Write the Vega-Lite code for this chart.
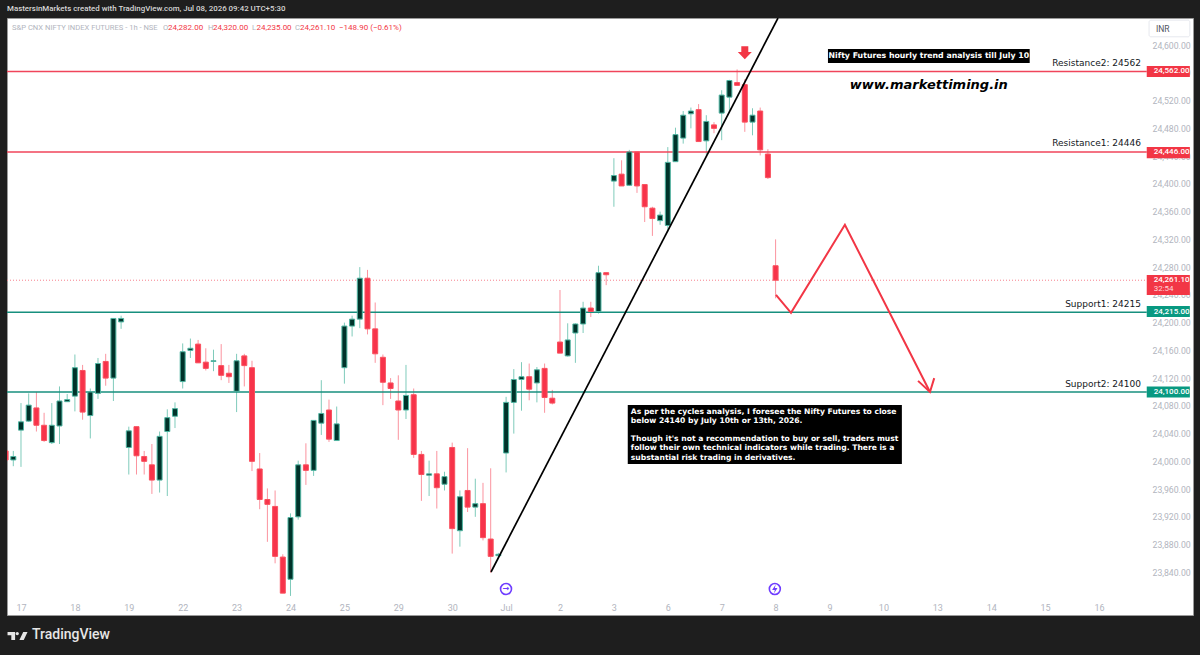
{"$schema":"https://vega.github.io/schema/vega-lite/v6.json","width":1186,"height":597,"autosize":"none","padding":{"left":7,"top":18,"right":7,"bottom":40},"background":"#1e1e1e","view":{"fill":"#ffffff","stroke":"#9a9a9a"},
"datasets":{"candles":[
{"n":-2,"open":24015,"high":24018,"low":23999,"close":24002,"dir":"down"},{"n":-1,"open":24002,"high":24015,"low":23993,"close":24007,"dir":"up"},{"n":0,"open":24045,"high":24084,"low":23992,"close":24057,"dir":"up"},{"n":1,"open":24058,"high":24098,"low":24057,"close":24081,"dir":"up"},{"n":2,"open":24077,"high":24100,"low":24043,"close":24052,"dir":"down"},{"n":3,"open":24052,"high":24070,"low":24028,"close":24030,"dir":"down"},{"n":4,"open":24027,"high":24084,"low":24025,"close":24052,"dir":"up"},{"n":5,"open":24051,"high":24108,"low":24025,"close":24087,"dir":"up"},{"n":6,"open":24086,"high":24097,"low":24086,"close":24089,"dir":"up"},{"n":7,"open":24094,"high":24154,"low":24072,"close":24135,"dir":"up"},{"n":8,"open":24131,"high":24139,"low":24060,"close":24071,"dir":"down"},{"n":9,"open":24066,"high":24105,"low":24033,"close":24100,"dir":"up"},{"n":10,"open":24098,"high":24149,"low":24090,"close":24141,"dir":"up"},{"n":11,"open":24144,"high":24155,"low":24109,"close":24120,"dir":"down"},{"n":12,"open":24120,"high":24206,"low":24087,"close":24206,"dir":"up"},{"n":13,"open":24201,"high":24210,"low":24191,"close":24206,"dir":"up"},{"n":14,"open":24020,"high":24050,"low":23981,"close":24044,"dir":"up"},{"n":15,"open":24050,"high":24050,"low":23981,"close":24008,"dir":"down"},{"n":16,"open":24007,"high":24015,"low":23981,"close":24000,"dir":"down"},{"n":17,"open":23995,"high":24025,"low":23953,"close":23973,"dir":"down"},{"n":18,"open":23973,"high":24043,"low":23955,"close":24036,"dir":"up"},{"n":19,"open":24043,"high":24075,"low":23950,"close":24063,"dir":"up"},{"n":20,"open":24065,"high":24085,"low":24048,"close":24076,"dir":"up"},{"n":21,"open":24115,"high":24170,"low":24105,"close":24158,"dir":"up"},{"n":22,"open":24160,"high":24177,"low":24149,"close":24163,"dir":"up"},{"n":23,"open":24169,"high":24175,"low":24142,"close":24142,"dir":"down"},{"n":24,"open":24143,"high":24163,"low":24131,"close":24134,"dir":"down"},{"n":25,"open":24144,"high":24161,"low":24130,"close":24145,"dir":"up"},{"n":26,"open":24138,"high":24169,"low":24117,"close":24124,"dir":"down"},{"n":27,"open":24127,"high":24139,"low":24113,"close":24122,"dir":"down"},{"n":28,"open":24101,"high":24155,"low":24071,"close":24145,"dir":"up"},{"n":29,"open":24152,"high":24155,"low":24108,"close":24138,"dir":"down"},{"n":30,"open":24135,"high":24145,"low":23986,"close":24000,"dir":"down"},{"n":31,"open":23989,"high":24012,"low":23931,"close":23945,"dir":"down"},{"n":32,"open":23945,"high":23961,"low":23884,"close":23938,"dir":"down"},{"n":33,"open":23935,"high":23958,"low":23853,"close":23863,"dir":"down"},{"n":34,"open":23862,"high":23866,"low":23810,"close":23810,"dir":"down"},{"n":35,"open":23830,"high":23925,"low":23806,"close":23919,"dir":"up"},{"n":36,"open":23920,"high":24001,"low":23916,"close":23995,"dir":"up"},{"n":37,"open":23995,"high":24026,"low":23966,"close":23987,"dir":"down"},{"n":38,"open":23987,"high":24059,"low":23979,"close":24059,"dir":"up"},{"n":39,"open":24055,"high":24117,"low":24038,"close":24069,"dir":"up"},{"n":40,"open":24074,"high":24089,"low":24028,"close":24032,"dir":"down"},{"n":41,"open":24030,"high":24079,"low":24030,"close":24054,"dir":"up"},{"n":42,"open":24135,"high":24200,"low":24112,"close":24195,"dir":"up"},{"n":43,"open":24195,"high":24210,"low":24180,"close":24205,"dir":"up"},{"n":44,"open":24205,"high":24280,"low":24192,"close":24264,"dir":"up"},{"n":45,"open":24264,"high":24276,"low":24183,"close":24191,"dir":"down"},{"n":46,"open":24191,"high":24229,"low":24142,"close":24155,"dir":"down"},{"n":47,"open":24150,"high":24154,"low":24081,"close":24114,"dir":"down"},{"n":48,"open":24113,"high":24120,"low":24090,"close":24105,"dir":"down"},{"n":49,"open":24087,"high":24124,"low":24031,"close":24074,"dir":"down"},{"n":50,"open":24074,"high":24139,"low":24061,"close":24095,"dir":"up"},{"n":51,"open":24096,"high":24105,"low":24005,"close":24010,"dir":"down"},{"n":52,"open":24010,"high":24015,"low":23943,"close":23981,"dir":"down"},{"n":53,"open":23980,"high":24001,"low":23950,"close":23982,"dir":"up"},{"n":54,"open":23982,"high":24015,"low":23932,"close":23962,"dir":"down"},{"n":55,"open":23967,"high":23985,"low":23958,"close":23978,"dir":"up"},{"n":56,"open":24020,"high":24027,"low":23867,"close":23903,"dir":"down"},{"n":57,"open":23900,"high":23958,"low":23877,"close":23949,"dir":"up"},{"n":58,"open":23958,"high":24019,"low":23927,"close":23934,"dir":"down"},{"n":59,"open":23934,"high":23975,"low":23920,"close":23939,"dir":"up"},{"n":60,"open":23939,"high":23969,"low":23886,"close":23890,"dir":"down"},{"n":61,"open":23888,"high":23990,"low":23839,"close":23863,"dir":"down"},{"n":62,"open":23864,"high":23868,"low":23861,"close":23866,"dir":"up"},{"n":63,"open":24012,"high":24093,"low":23984,"close":24085,"dir":"up"},{"n":64,"open":24085,"high":24133,"low":24040,"close":24118,"dir":"up"},{"n":65,"open":24118,"high":24143,"low":24073,"close":24122,"dir":"up"},{"n":66,"open":24122,"high":24141,"low":24088,"close":24104,"dir":"down"},{"n":67,"open":24113,"high":24136,"low":24085,"close":24132,"dir":"up"},{"n":68,"open":24134,"high":24141,"low":24070,"close":24092,"dir":"down"},{"n":69,"open":24091,"high":24103,"low":24082,"close":24084,"dir":"down"},{"n":70,"open":24172,"high":24247,"low":24156,"close":24156,"dir":"down"},{"n":71,"open":24152,"high":24199,"low":24151,"close":24175,"dir":"up"},{"n":72,"open":24185,"high":24199,"low":24142,"close":24198,"dir":"up"},{"n":73,"open":24198,"high":24230,"low":24185,"close":24221,"dir":"up"},{"n":74,"open":24221,"high":24230,"low":24208,"close":24216,"dir":"down"},{"n":75,"open":24216,"high":24282,"low":24213,"close":24272,"dir":"up"},{"n":76,"open":24272,"high":24272,"low":24254,"close":24269,"dir":"down"},{"n":77,"open":24404,"high":24437,"low":24367,"close":24412,"dir":"up"},{"n":78,"open":24414,"high":24434,"low":24397,"close":24397,"dir":"down"},{"n":79,"open":24398,"high":24449,"low":24397,"close":24446,"dir":"up"},{"n":80,"open":24446,"high":24446,"low":24387,"close":24397,"dir":"down"},{"n":81,"open":24399,"high":24399,"low":24345,"close":24367,"dir":"down"},{"n":82,"open":24365,"high":24367,"low":24325,"close":24350,"dir":"down"},{"n":83,"open":24347,"high":24360,"low":24341,"close":24355,"dir":"up"},{"n":84,"open":24340,"high":24453,"low":24331,"close":24431,"dir":"up"},{"n":85,"open":24432,"high":24481,"low":24432,"close":24471,"dir":"up"},{"n":86,"open":24466,"high":24505,"low":24458,"close":24499,"dir":"up"},{"n":87,"open":24501,"high":24510,"low":24480,"close":24505,"dir":"up"},{"n":88,"open":24507,"high":24515,"low":24461,"close":24461,"dir":"down"},{"n":89,"open":24462,"high":24499,"low":24442,"close":24490,"dir":"up"},{"n":90,"open":24485,"high":24489,"low":24473,"close":24480,"dir":"down"},{"n":91,"open":24502,"high":24535,"low":24463,"close":24528,"dir":"up"},{"n":92,"open":24525,"high":24550,"low":24503,"close":24549,"dir":"up"},{"n":93,"open":24546,"high":24565,"low":24542,"close":24542,"dir":"down"},{"n":94,"open":24543,"high":24551,"low":24475,"close":24489,"dir":"down"},{"n":95,"open":24489,"high":24509,"low":24470,"close":24499,"dir":"up"},{"n":96,"open":24505,"high":24510,"low":24441,"close":24449,"dir":"down"},{"n":97,"open":24443,"high":24450,"low":24407,"close":24409,"dir":"down"},{"n":98,"open":24282,"high":24320,"low":24235,"close":24261.1,"dir":"down"}
]},
"encoding":{"x":{"field":"n","type":"quantitative","title":null,"scale":{"domain":[-1.818,152.208],"nice":false,"zero":false,"padding":0},"axis":{"orient":"bottom","offset":-15,"values":[0,7,14,21,28,35,42,49,56,63,70,77,84,91,98,105,112,119,126,133,140],"labelExpr":"['17','18','19','22','23','24','25','29','30','Jul','2','3','6','7','8','9','10','13','14','15','16'][round(datum.value/7)]","grid":false,"domain":false,"ticks":false,"labelPadding":3,"labelFont":"Roboto","labelFontSize":9,"labelColor":"#b2b5be","labelFlush":false,"labelOverlap":false,"title":null}},
"y":{"field":"price","type":"quantitative","title":null,"scale":{"domain":[23778.5,24639.1],"nice":false,"zero":false,"padding":0},"axis":{"orient":"right","offset":-41,"values":[24600,24560,24520,24480,24440,24400,24360,24320,24280,24240,24200,24160,24120,24080,24040,24000,23960,23920,23880,23840],"format":",.2f","grid":false,"domain":false,"ticks":false,"labelPadding":0,"labelFont":"Roboto","labelFontSize":8.7,"labelColor":"#b2b5be","labelOverlap":false,"labelFlush":false,"title":null}}},
"layer":[
{"data":{"name":"candles"},"mark":{"type":"rule","strokeWidth":1,"clip":true},"encoding":{"y":{"field":"low","type":"quantitative","title":null},"y2":{"field":"high"},"color":{"field":"dir","type":"nominal","legend":null,"scale":{"domain":["up","down"],"range":["#7fcbbb","#fb939e"]}}}},
{"data":{"values":[{"n":-1.818,"n2":146.2,"price":24562},{"n":-1.818,"n2":146.2,"price":24446}]},"mark":{"type":"rule","strokeWidth":1.4,"color":"#f0445a"},"encoding":{"x2":{"field":"n2"}}},
{"data":{"values":[{"n":-1.818,"n2":146.2,"price":24215},{"n":-1.818,"n2":146.2,"price":24100}]},"mark":{"type":"rule","strokeWidth":1.4,"color":"#178f7e"},"encoding":{"x2":{"field":"n2"}}},
{"data":{"values":[{"n":-1.818,"n2":146.2,"price":24261.1}]},"mark":{"type":"rule","strokeWidth":1,"strokeDash":[1,2],"color":"#f7808c"},"encoding":{"x2":{"field":"n2"}}},
{"data":{"name":"candles"},"mark":{"type":"bar","size":5,"strokeWidth":1,"orient":"vertical","clip":true},"encoding":{"y":{"field":"open","type":"quantitative","title":null},"y2":{"field":"close"},"fill":{"field":"dir","type":"nominal","legend":null,"scale":{"domain":["up","down"],"range":["#00332a","#f7334a"]}},"stroke":{"field":"dir","type":"nominal","legend":null,"scale":{"domain":["up","down"],"range":["#4fb5a2","#f9525f"]}}}},
{"data":{"values":[{"n":61.04,"price":23840.5,"i":1},{"n":98.31,"price":24639,"i":2}]},"mark":{"type":"line","color":"#000000","strokeWidth":1.7,"clip":true},"encoding":{"order":{"field":"i"}}},
{"data":{"values":[{"n":98.05,"price":24240,"i":1},{"n":100,"price":24214,"i":2},{"n":107,"price":24341,"i":3},{"n":118.05,"price":24100,"i":4}]},"mark":{"type":"line","color":"#f23645","strokeWidth":2},"encoding":{"order":{"field":"i"}}},
{"data":{"values":[{"n":116.5,"price":24116,"i":1},{"n":118.05,"price":24100,"i":2},{"n":118.6,"price":24120,"i":3}]},"mark":{"type":"line","color":"#f23645","strokeWidth":2},"encoding":{"order":{"field":"i"}}},
{"data":{"values":[{"n":94,"price":24589}]},"mark":{"type":"point","filled":true,"opacity":1,"color":"#f23645","size":784,"shape":"M-0.25,-0.46 L0.25,-0.46 L0.25,-0.05 L0.5,-0.05 L0,0.46 L-0.5,-0.05 L-0.25,-0.05 Z"}},
{"data":{"values":[{"n":104.8,"n2":131,"price":24594.4,"price2":24574.3},{"n":78.8,"n2":114.4,"price":24081.3,"price2":23996.2}]},"mark":{"type":"rect","color":"#000000"},"encoding":{"x2":{"field":"n2"},"y2":{"field":"price2"}}},
{"data":{"values":[{"n":146.2,"n2":151.8,"price":24570,"price2":24554},{"n":146.2,"n2":151.8,"price":24453,"price2":24437},{"n":146.2,"n2":151.8,"price":24268.7,"price2":24239.8}]},"mark":{"type":"rect","color":"#f23645"},"encoding":{"x2":{"field":"n2"},"y2":{"field":"price2"}}},
{"data":{"values":[{"n":146.2,"n2":151.8,"price":24224,"price2":24208},{"n":146.2,"n2":151.8,"price":24108,"price2":24092}]},"mark":{"type":"rect","color":"#089981"},"encoding":{"x2":{"field":"n2"},"y2":{"field":"price2"}}},
{"data":{"values":[{"n":146.5,"n2":151.8,"price":24636,"price2":24612}]},"mark":{"type":"rect","fill":"#ffffff","stroke":"#e6e8ee","strokeWidth":1,"cornerRadius":2},"encoding":{"x2":{"field":"n2"},"y2":{"field":"price2"}}},
{"data":{"values":[{"n":147.4,"price":24623,"label":"INR"}]},"mark":{"type":"text","align":"left","baseline":"middle","font":"Roboto","fontSize":8.5,"color":"#50535e"},"encoding":{"text":{"field":"label"}}},
{"data":{"values":[{"n":147.1,"price":24562,"label":"24,562.00"},{"n":147.1,"price":24446,"label":"24,446.00"},{"n":147.1,"price":24261.1,"label":"24,261.10"},{"n":147.1,"price":24215,"label":"24,215.00"},{"n":147.1,"price":24100,"label":"24,100.00"}]},"mark":{"type":"text","align":"left","baseline":"middle","font":"Roboto","fontSize":8,"fontWeight":500,"color":"#ffffff"},"encoding":{"text":{"field":"label"}}},
{"data":{"values":[{"n":147.1,"price":24249,"label":"32:54"}]},"mark":{"type":"text","align":"left","baseline":"middle","font":"Roboto","fontSize":8,"color":"#ffd5d9"},"encoding":{"text":{"field":"label"}}},
{"data":{"values":[{"n":145.45,"price":24574.7,"label":"Resistance2: 24562"},{"n":145.45,"price":24459,"label":"Resistance1: 24446"},{"n":145.45,"price":24226.9,"label":"Support1: 24215"},{"n":145.45,"price":24111.5,"label":"Support2: 24100"}]},"mark":{"type":"text","align":"right","baseline":"middle","font":"DejaVu Sans","fontSize":9,"color":"#131722"},"encoding":{"text":{"field":"label"}}},
{"data":{"values":[{"n":117.9,"price":24584.4,"label":"Nifty Futures hourly trend analysis till July 10"}]},"mark":{"type":"text","align":"center","baseline":"middle","font":"DejaVu Sans","fontSize":7.8,"fontWeight":"bold","color":"#ffffff"},"encoding":{"text":{"field":"label"}}},
{"data":{"values":[{"n":117.9,"price":24542.5,"label":"www.markettiming.in"}]},"mark":{"type":"text","align":"center","baseline":"middle","font":"DejaVu Sans","fontSize":13,"fontWeight":"bold","fontStyle":"italic","color":"#000000"},"encoding":{"text":{"field":"label"}}},
{"data":{"values":[{"n":79.2,"price":24071.6,"label":"As per the cycles analysis, I foresee the Nifty Futures to close"},{"n":79.2,"price":24058.2,"label":"below 24140 by July 10th or 13th, 2026."},{"n":79.2,"price":24032.2,"label":"Though it's not a recommendation to buy or sell, traders must"},{"n":79.2,"price":24018.8,"label":"follow their own technical indicators while trading. There is a"},{"n":79.2,"price":24005.3,"label":"substantial risk trading in derivatives."}]},"mark":{"type":"text","align":"left","baseline":"middle","font":"DejaVu Sans","fontSize":7.6,"fontWeight":"bold","color":"#ffffff"},"encoding":{"text":{"field":"label"}}},
{"data":{"values":[{"n":62.99,"price":23816},{"n":97.9,"price":23816}]},"mark":{"type":"point","shape":"circle","size":120,"strokeWidth":1.6,"color":"#6f3dff","opacity":1}},
{"data":{"values":[{"n":62.99,"price":23816,"label":"→"}]},"mark":{"type":"text","align":"center","baseline":"middle","font":"DejaVu Sans","fontSize":8,"fontWeight":"bold","color":"#6f3dff"},"encoding":{"text":{"field":"label"}}},
{"data":{"values":[{"n":97.9,"price":23816}]},"mark":{"type":"point","filled":true,"opacity":1,"color":"#6f3dff","size":324,"shape":"M0.1,-0.5 L-0.3,0.1 L0,0.1 L-0.1,0.5 L0.3,-0.1 L0,-0.1 Z"}},
{"data":{"values":[{"n":-1.818,"price":24651.4,"label":"MastersinMarkets created with TradingView.com, Jul 08, 2026 09:42 UTC+5:30"}]},"mark":{"type":"text","align":"left","baseline":"middle","font":"Roboto","fontSize":7.9,"fontWeight":500,"color":"#d6d6d6"},"encoding":{"text":{"field":"label"}}},
{"data":{"values":[{"n":-1.17,"price":24625.4,"label":"S&P CNX NIFTY INDEX FUTURES - 1h - NSE"},{"n":18.44,"price":24625.4,"label":"O"},{"n":24.29,"price":24625.4,"label":"H"},{"n":30,"price":24625.4,"label":"L"},{"n":35.6,"price":24625.4,"label":"C"}]},"mark":{"type":"text","align":"left","baseline":"middle","font":"Roboto","fontSize":7.6,"color":"#b2b5be"},"encoding":{"text":{"field":"label"}}},
{"data":{"values":[{"n":19.09,"price":24625.4,"label":"24,282.00"},{"n":24.94,"price":24625.4,"label":"24,320.00"},{"n":30.58,"price":24625.4,"label":"24,235.00"},{"n":36.23,"price":24625.4,"label":"24,261.10"},{"n":41.3,"price":24625.4,"label":"−148.90 (−0.61%)"}]},"mark":{"type":"text","align":"left","baseline":"middle","font":"Roboto","fontSize":8,"color":"#f23645"},"encoding":{"text":{"field":"label"}}},
{"data":{"values":[{"n":-0.45,"price":23748.3}]},"mark":{"type":"point","filled":true,"opacity":1,"color":"#e6e6e6","size":1600,"shape":"M-0.1216,-0.2027 L-0.5,-0.2027 L-0.5,-0.0405 L-0.3108,-0.0405 L-0.3108,0.2027 L-0.1216,0.2027 Z M0.0676,-0.1216 A0.081,0.081 0 1 1 -0.0946,-0.1216 A0.081,0.081 0 1 1 0.0676,-0.1216 Z M0.2838,-0.2027 L0.5,-0.2027 L0.3108,0.2027 L0.0946,0.2027 Z"}},
{"data":{"values":[{"n":1.43,"price":23749,"label":"TradingView"}]},"mark":{"type":"text","align":"left","baseline":"middle","font":"Roboto","fontSize":14,"fontWeight":500,"color":"#e6e6e6"},"encoding":{"text":{"field":"label"}}}
]}
